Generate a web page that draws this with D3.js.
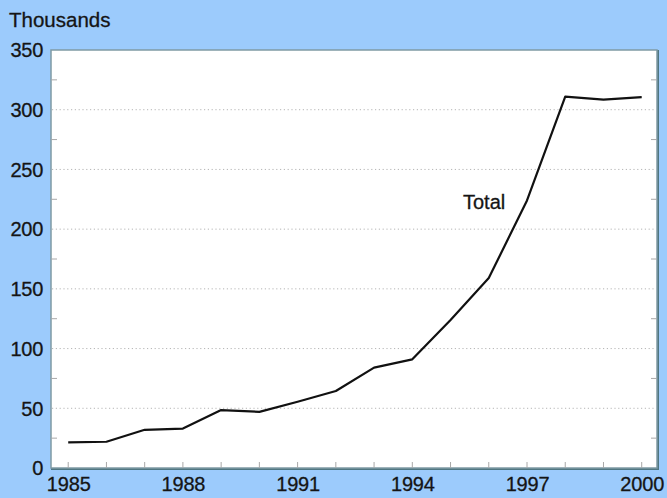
<!DOCTYPE html>
<html><head><meta charset="utf-8">
<script src="https://cdn.jsdelivr.net/npm/d3@7"></script>
<style>
html,body{margin:0;padding:0;background:#9ccbfc;}
svg{display:block;}
text{font-family:"Liberation Sans",Arial,Helvetica,sans-serif;fill:#151515;stroke:#151515;stroke-width:0.3px;}
</style></head>
<body>
<svg id="chart" width="667" height="498"></svg>
<script>
const years = [1985,1986,1987,1988,1989,1990,1991,1992,1993,1994,1995,1996,1997,1998,1999,2000];
const totals = [21.5,22,32,33,48.5,47,55.5,64.5,84,91,124,159,224,311,308.5,310.5];
const yTicks = [0,50,100,150,200,250,300,350];
const xTickLabels = [1985,1988,1991,1994,1997,2000];
const seriesLabel = "Total";
const unitLabel = "Thousands";

const W=667,H=498;
const L=51,T=50,R=657,B=468;
const svg=d3.select("#chart");
svg.append("rect").attr("width",W).attr("height",H).attr("fill","#9ccbfc");

const x=d3.scaleLinear().domain([1984.55,2000.4]).range([L,R]);
const y=d3.scaleLinear().domain([0,350]).range([B,T]);

// frame shadow
svg.append("rect").attr("x",L+1).attr("y",T+1).attr("width",R-L).attr("height",B-T)
  .attr("fill","none").attr("stroke","#4f7682").attr("stroke-width",2);
svg.append("rect").attr("x",L).attr("y",T).attr("width",R-L).attr("height",B-T)
  .attr("fill","#fff").attr("stroke","#7f9aa4").attr("stroke-width",1.5);

// gridlines
svg.append("g").selectAll("line").data(yTicks.filter(d=>d>0&&d<350)).join("line")
  .attr("x1",L+1).attr("x2",R-1).attr("y1",d=>y(d)).attr("y2",d=>y(d))
  .attr("stroke","#b5b5b5").attr("stroke-width",1).attr("stroke-dasharray","1.2,2.6");

// minor ticks left/right
const minor=d3.range(25,350,50);
svg.append("g").selectAll("line").data(minor).join("line")
  .attr("x1",L).attr("x2",L+6).attr("y1",d=>y(d)).attr("y2",d=>y(d))
  .attr("stroke","#a8a8a8").attr("stroke-width",1);
svg.append("g").selectAll("line").data(minor).join("line")
  .attr("x1",R-6).attr("x2",R).attr("y1",d=>y(d)).attr("y2",d=>y(d))
  .attr("stroke","#a8a8a8").attr("stroke-width",1);

// x ticks (inside)
svg.append("g").selectAll("line").data(years).join("line")
  .attr("x1",d=>x(d)).attr("x2",d=>x(d)).attr("y1",B).attr("y2",B-6)
  .attr("stroke","#a8a8a8").attr("stroke-width",1);

// y axis labels
const yAxis=d3.axisLeft(y).tickValues(yTicks).tickSize(0).tickPadding(8);
const gy=svg.append("g").attr("transform",`translate(${L},0)`).call(yAxis);
gy.select(".domain").remove();
gy.selectAll("text").attr("font-size",20).attr("fill","#151515")
  .attr("font-family","Liberation Sans, Arial, sans-serif").attr("letter-spacing","-0.3").attr("dy","0.34em");

// x axis labels
const xAxis=d3.axisBottom(x).tickValues(xTickLabels).tickFormat(d3.format("d")).tickSize(0).tickPadding(9);
const gx=svg.append("g").attr("transform",`translate(0,${B})`).call(xAxis);
gx.select(".domain").remove();
gx.selectAll("text").attr("font-size",20).attr("fill","#151515")
  .attr("font-family","Liberation Sans, Arial, sans-serif").attr("letter-spacing","-0.2");

// unit label
svg.append("text").attr("x",9).attr("y",27).attr("font-size",20.5).text(unitLabel);

// line
const line=d3.line().x((d,i)=>x(years[i])).y(d=>y(d));
svg.append("path").datum(totals).attr("d",line).attr("fill","none")
  .attr("stroke","#111").attr("stroke-width",2.2).attr("stroke-linejoin","round");

// series label
svg.append("text").attr("x",463).attr("y",209).attr("font-size",20).text(seriesLabel);
</script>
</body></html>
